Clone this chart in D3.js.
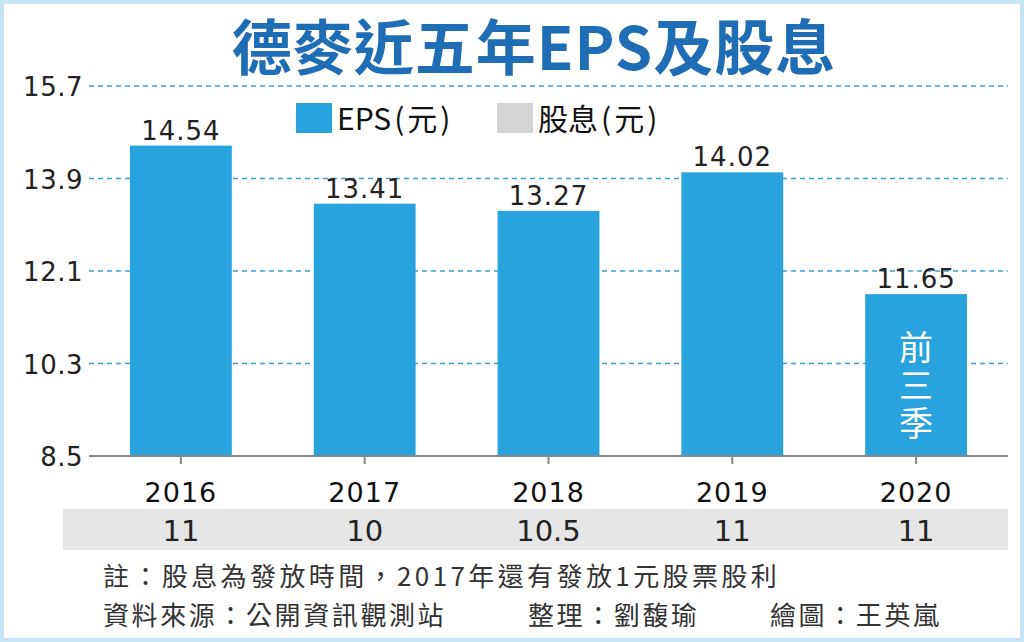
<!DOCTYPE html>
<html>
<head>
<meta charset="utf-8">
<script src="https://cdn.jsdelivr.net/npm/d3@7"></script>
<style>
  html,body{margin:0;padding:0;background:#fff;}
  svg{display:block;font-family:"DejaVu Sans","Noto Sans CJK TC",sans-serif;}
</style>
</head>
<body>
<svg id="chart"></svg>
<script>
// 資料
const years = ["2016","2017","2018","2019","2020"];
const eps = [14.54, 13.41, 13.27, 14.02, 11.65];
const dividends = ["11","10","10.5","11","11"];
const yTicks = [8.5, 10.3, 12.1, 13.9, 15.7];
const titleText = "德麥近五年EPS及股息";
const legendLabels = [["EPS","(元)"], ["股息","(元)"]];
const noteLine = "註：股息為發放時間，2017年還有發放1元股票股利";
const credits = ["資料來源：公開資訊觀測站", "整理：劉馥瑜", "繪圖：王英嵐"];
const lastNote = "前三季";

const W = 1024, H = 642;
const MARGIN = {TOP:86, BOTTOM:186, LEFT:89, RIGHT:16};
const BLUE = "#28a3de";
const CJK = "'Noto Sans CJK TC','Noto Sans',sans-serif";

const svg = d3.select("#chart").attr("width", W).attr("height", H);

// 외곽
svg.append("rect").attr("x",2).attr("y",2).attr("width",W-4).attr("height",H-4)
   .attr("fill","#fff").attr("stroke","#c6e4f6").attr("stroke-width",4);

// 標題
svg.append("text").attr("x",534).attr("y",70).attr("text-anchor","middle")
   .attr("font-size",60).attr("font-weight","bold").attr("fill","#1f6db4")
   .attr("letter-spacing",1).attr("font-family",CJK)
   .text(titleText);

// 스케일
const xScale = d3.scaleBand().domain(years)
  .range([MARGIN.LEFT, W - MARGIN.RIGHT])
  .paddingInner(0.446).paddingOuter(0.223);
const yScale = d3.scaleLinear().domain([8.5, 15.7]).range([H - MARGIN.BOTTOM, MARGIN.TOP]);

// 格線
svg.append("g")
  .selectAll("line")
  .data(yTicks.slice(1))
  .join("line")
  .attr("x1", MARGIN.LEFT).attr("x2", W - MARGIN.RIGHT)
  .attr("y1", d => yScale(d)).attr("y2", d => yScale(d))
  .attr("stroke", "#3b9fd6").attr("stroke-width", 1.3)
  .attr("stroke-dasharray", "5,4");

// y 軸標籤
svg.append("g")
  .selectAll("text")
  .data(yTicks)
  .join("text")
  .attr("x", 83).attr("y", d => yScale(d) + 10)
  .attr("text-anchor","end").attr("font-size",26).attr("fill","#222")
  .attr("letter-spacing",0.5)
  .text(d => d.toFixed(1));

// 長條
svg.append("g")
  .selectAll("rect")
  .data(eps)
  .join("rect")
  .attr("x", (d,i) => xScale(years[i]))
  .attr("y", d => yScale(d))
  .attr("width", xScale.bandwidth())
  .attr("height", d => yScale(8.5) - yScale(d))
  .attr("fill", BLUE);

// 數值
svg.append("g")
  .selectAll("text")
  .data(eps)
  .join("text")
  .attr("x", (d,i) => xScale(years[i]) + xScale.bandwidth()/2)
  .attr("y", d => yScale(d) - 6)
  .attr("text-anchor","middle").attr("font-size",26).attr("fill","#222")
  .attr("letter-spacing",1)
  .text(d => d.toFixed(2));

// x 軸
const xAxis = svg.append("g")
  .attr("transform", "translate(0," + yScale(8.5) + ")")
  .call(d3.axisBottom(xScale).tickSize(8).tickPadding(0));
xAxis.select(".domain").attr("stroke","#888").attr("stroke-width",2)
  .attr("d", "M" + MARGIN.LEFT + ",0H" + (W - MARGIN.RIGHT));
xAxis.selectAll(".tick line").attr("stroke","#888").attr("stroke-width",2);
xAxis.selectAll(".tick text").attr("font-size",27).attr("fill","#111")
  .attr("font-family","'DejaVu Sans',sans-serif").attr("letter-spacing",1)
  .attr("y",46).attr("dy",0);

// 前三季 (세로쓰기)
const last = years[years.length-1];
svg.append("text")
  .attr("x", xScale(last) + xScale.bandwidth()/2)
  .attr("y", 330)
  .style("writing-mode","vertical-rl")
  .attr("font-size",34).attr("fill","#fff").attr("letter-spacing",4)
  .attr("font-family",CJK)
  .text(lastNote);

// 股息列
svg.append("rect").attr("x",63).attr("y",509).attr("width",W - MARGIN.RIGHT - 63).attr("height",41)
  .attr("fill","#e6e6e6");
svg.append("g")
  .selectAll("text")
  .data(dividends)
  .join("text")
  .attr("x", (d,i) => xScale(years[i]) + xScale.bandwidth()/2)
  .attr("y", 541)
  .attr("text-anchor","middle").attr("font-size",29).attr("fill","#222")
  .text(d => d);

// 圖例
const legend = svg.append("g").attr("transform","translate(296,103)");
[BLUE, "#d4d4d4"].forEach((c,i) => {
  const g = legend.append("g").attr("transform","translate(" + (i*201) + ",0)");
  g.append("rect").attr("width",36).attr("height",30).attr("fill",c);
  const t = g.append("text").attr("x",41).attr("y",27).attr("font-size",30).attr("fill","#111")
   .attr("font-family",CJK);
  t.append("tspan").text(legendLabels[i][0]);
  t.append("tspan").attr("dx",3).attr("letter-spacing",3).text(legendLabels[i][1]);
});

// 註
svg.append("text")
  .attr("x",103).attr("y",586)
  .attr("font-size",26).attr("fill","#333").attr("letter-spacing",3.4)
  .attr("font-family",CJK)
  .text(noteLine);
svg.append("g")
  .selectAll("text")
  .data(credits)
  .join("text")
  .attr("x",(d,i) => [103, 528, 770][i]).attr("y",625)
  .attr("font-size",26).attr("fill","#333").attr("letter-spacing",2.6)
  .attr("font-family",CJK)
  .text(d => d);
</script>
</body>
</html>
